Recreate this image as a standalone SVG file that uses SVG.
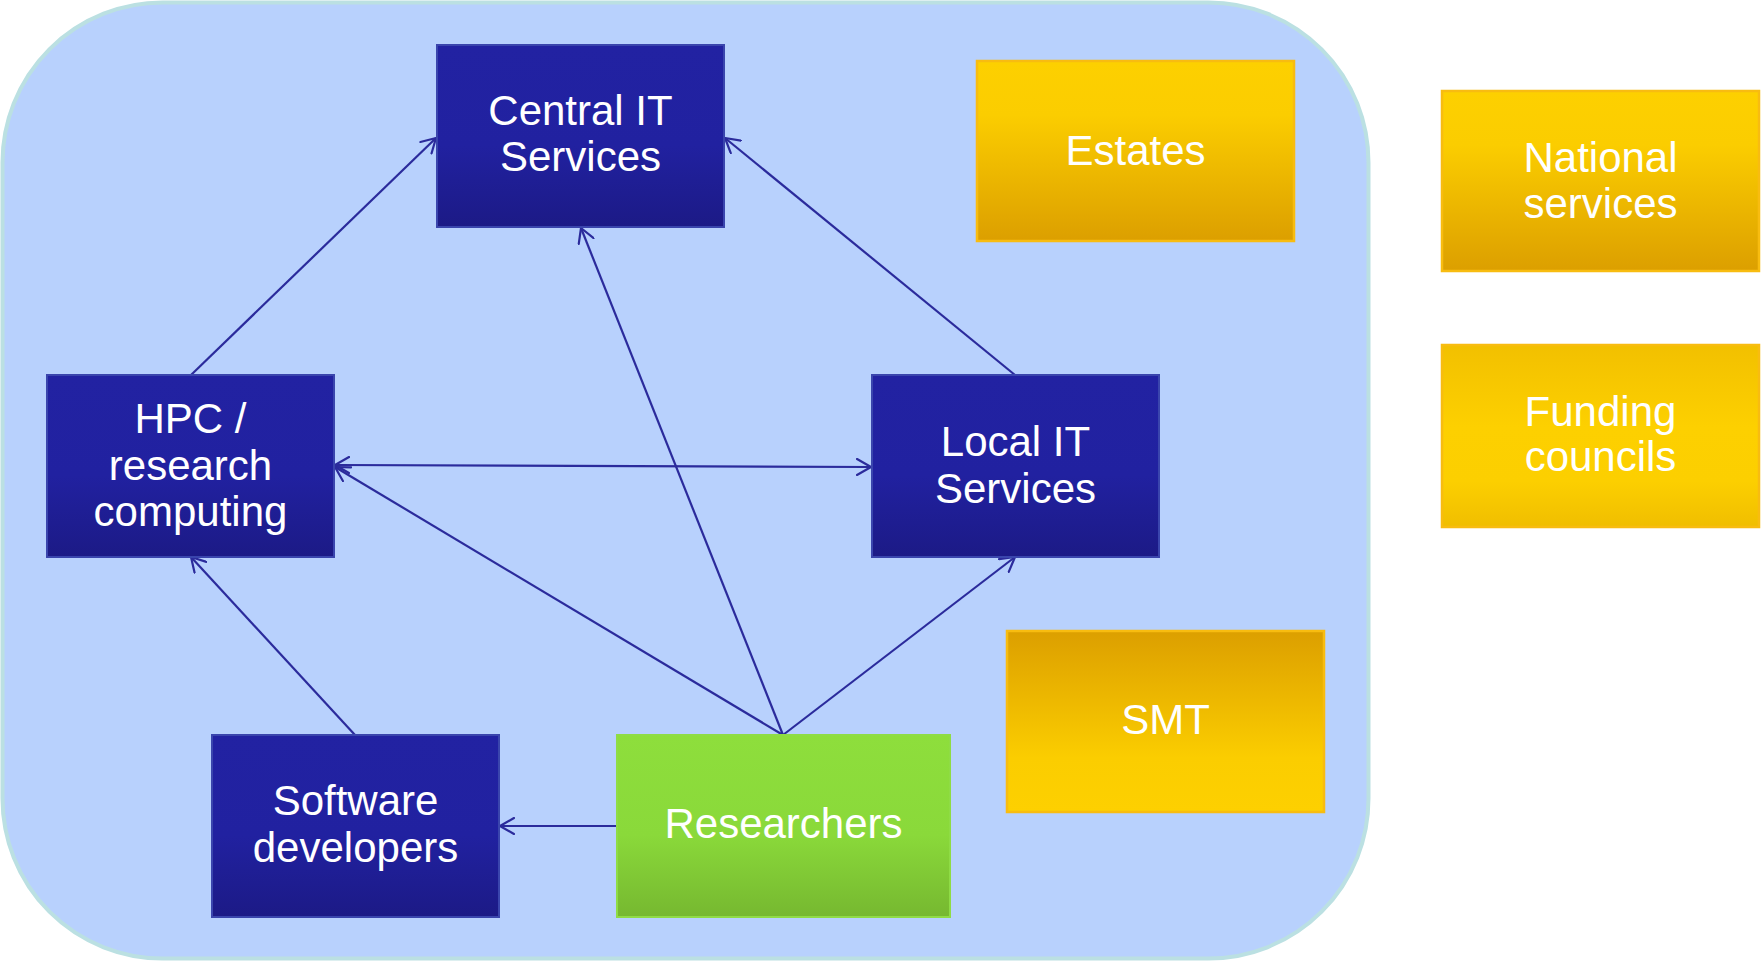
<svg xmlns="http://www.w3.org/2000/svg" width="1762" height="962" viewBox="0 0 1762 962">
<style>
.lbl{font-family:"Liberation Sans",Arial,sans-serif;font-size:42px;fill:#ffffff;text-anchor:middle}
.blue{fill:url(#gBlue);stroke:#3a45ad;stroke-width:2}
.gold{stroke:#f8bc10;stroke-width:2.5}
.green{fill:url(#gGreen);stroke:#8fdc45;stroke-width:2}
.conn{stroke:#2b2b9c;stroke-width:2.2;fill:none;marker-end:url(#arr)}
</style>
<defs>
<linearGradient id="gBlue" x1="0" y1="0" x2="0" y2="1">
<stop offset="0" stop-color="#2222a2"/><stop offset="0.55" stop-color="#2121a0"/><stop offset="1" stop-color="#1c1a86"/>
</linearGradient>
<linearGradient id="gGreen" x1="0" y1="0" x2="0" y2="1">
<stop offset="0" stop-color="#8ede3c"/><stop offset="0.55" stop-color="#8ad93a"/><stop offset="1" stop-color="#76b830"/>
</linearGradient>
<linearGradient id="gGoldDown" x1="0" y1="0" x2="0" y2="1">
<stop offset="0" stop-color="#fdd000"/><stop offset="0.3" stop-color="#fbcd00"/><stop offset="1" stop-color="#dc9f00"/>
</linearGradient>
<linearGradient id="gGoldUp" x1="0" y1="1" x2="0" y2="0">
<stop offset="0" stop-color="#fdd000"/><stop offset="0.3" stop-color="#fbcd00"/><stop offset="1" stop-color="#dc9f00"/>
</linearGradient>
<linearGradient id="gGoldMid" x1="0" y1="0" x2="0" y2="1">
<stop offset="0" stop-color="#f2c000"/><stop offset="0.45" stop-color="#fdd000"/><stop offset="0.75" stop-color="#fccf00"/><stop offset="1" stop-color="#f0be00"/>
</linearGradient>
<marker id="arr" viewBox="0 0 16 18" refX="15" refY="9" markerWidth="16" markerHeight="18" markerUnits="userSpaceOnUse" orient="auto-start-reverse">
<path d="M1,1 L15,9 L1,17" fill="none" stroke="#2b2b9c" stroke-width="2.2" stroke-linecap="round" stroke-linejoin="round"/>
</marker>
</defs>

<rect id="container" x="2.5" y="2.5" width="1366" height="956" rx="160" ry="160" fill="#b8d1fd" stroke="#bbe0e2" stroke-width="4"/>

<g id="connectors">
<line class="conn" x1="191" y1="375" x2="436" y2="138"/>
<line class="conn" x1="1015" y1="375" x2="725" y2="138"/>
<line class="conn" x1="783" y1="735" x2="581" y2="228"/>
<line class="conn" x1="783" y1="735" x2="335" y2="467"/>
<line class="conn" x1="783" y1="735" x2="1015" y2="557"/>
<line class="conn" x1="335" y1="465" x2="871" y2="467" style="marker-start:url(#arr)"/>
<line class="conn" x1="355" y1="735" x2="191" y2="557"/>
<line class="conn" x1="617" y1="826" x2="500" y2="826"/>
</g>

<g id="central-it">
<rect class="blue" x="437" y="45" width="287" height="182"/>
<text class="lbl" x="580.5" y="125">Central IT</text>
<text class="lbl" x="580.5" y="171">Services</text>
</g>

<g id="hpc">
<rect class="blue" x="47" y="375" width="287" height="182"/>
<text class="lbl" x="190.5" y="433">HPC /</text>
<text class="lbl" x="190.5" y="480">research</text>
<text class="lbl" x="190.5" y="526">computing</text>
</g>

<g id="local-it">
<rect class="blue" x="872" y="375" width="287" height="182"/>
<text class="lbl" x="1015.5" y="456">Local IT</text>
<text class="lbl" x="1015.5" y="503">Services</text>
</g>

<g id="software-developers">
<rect class="blue" x="212" y="735" width="287" height="182"/>
<text class="lbl" x="355.5" y="815">Software</text>
<text class="lbl" x="355.5" y="862">developers</text>
</g>

<g id="researchers">
<rect class="green" x="617" y="735" width="333" height="182"/>
<text class="lbl" x="783.5" y="838">Researchers</text>
</g>

<g id="estates">
<rect class="gold" fill="url(#gGoldDown)" x="977" y="61" width="317" height="180"/>
<text class="lbl" x="1135.5" y="165">Estates</text>
</g>

<g id="smt">
<rect class="gold" fill="url(#gGoldUp)" x="1007" y="631" width="317" height="181"/>
<text class="lbl" x="1165.5" y="734">SMT</text>
</g>

<g id="national-services">
<rect class="gold" fill="url(#gGoldDown)" x="1442" y="91" width="317" height="180"/>
<text class="lbl" x="1600.5" y="172">National</text>
<text class="lbl" x="1600.5" y="218">services</text>
</g>

<g id="funding-councils">
<rect class="gold" fill="url(#gGoldMid)" x="1442" y="345" width="317" height="182"/>
<text class="lbl" x="1600.5" y="426">Funding</text>
<text class="lbl" x="1600.5" y="471">councils</text>
</g>
</svg>
